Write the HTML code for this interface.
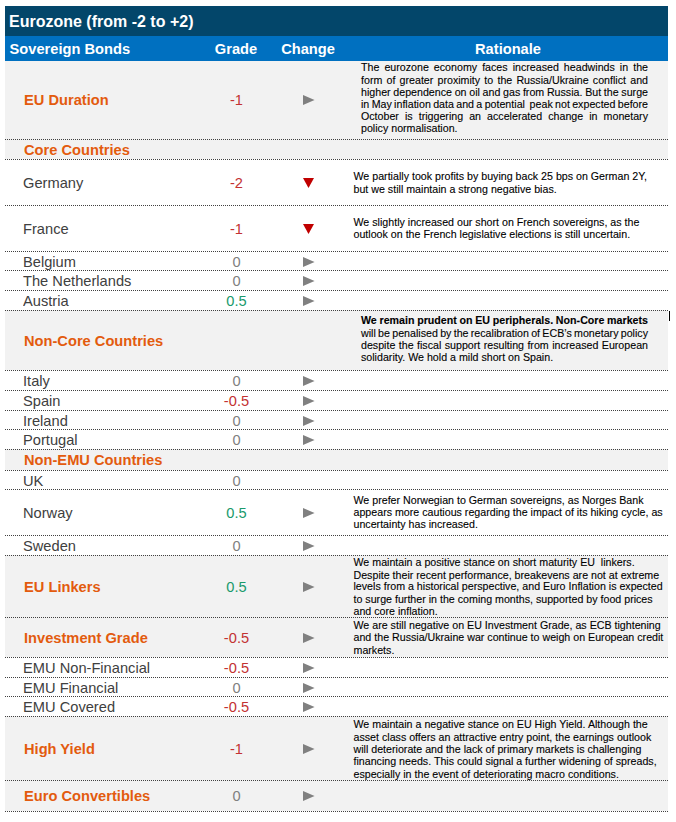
<!DOCTYPE html>
<html><head><meta charset="utf-8"><style>
html,body{margin:0;padding:0;background:#fff;}
body{width:676px;height:822px;position:relative;overflow:hidden;font-family:"Liberation Sans",sans-serif;}
.a{position:absolute;}
.t{position:absolute;white-space:pre;line-height:20px;font-size:14.667px;transform:scaleY(1.05);transform-origin:0 15px;}
.s{position:absolute;white-space:pre;line-height:12px;font-size:10.667px;color:#000;-webkit-text-stroke:0.1px #000;}
.j{text-align:justify;text-align-last:justify;}
.dl{position:absolute;left:5px;width:663px;height:1px;background:repeating-linear-gradient(to right,#404040 0 1px,transparent 1px 2px);}
.b{font-weight:bold;}
</style></head><body>

<div class="a" style="left:5px;top:6px;width:663px;height:30px;background:#03466A"></div>
<div class="a" style="left:5px;top:36px;width:663px;height:25px;background:#0070C0"></div>
<div class="a" style="left:5px;top:61px;width:663px;height:78px;background:#F2F2F2"></div>
<div class="a" style="left:5px;top:139px;width:663px;height:20px;background:#F2F2F2"></div>
<div class="a" style="left:5px;top:310px;width:663px;height:60px;background:#F2F2F2"></div>
<div class="a" style="left:5px;top:449px;width:663px;height:21px;background:#F2F2F2"></div>
<div class="a" style="left:5px;top:555px;width:663px;height:62px;background:#F2F2F2"></div>
<div class="a" style="left:5px;top:617px;width:663px;height:40px;background:#F2F2F2"></div>
<div class="a" style="left:5px;top:716px;width:663px;height:64px;background:#F2F2F2"></div>
<div class="a" style="left:5px;top:780px;width:663px;height:31px;background:#F2F2F2"></div>
<div class="dl" style="top:139px"></div>
<div class="dl" style="top:159px"></div>
<div class="dl" style="top:205px"></div>
<div class="dl" style="top:251px"></div>
<div class="dl" style="top:270px"></div>
<div class="dl" style="top:290px"></div>
<div class="dl" style="top:310px"></div>
<div class="dl" style="top:370px"></div>
<div class="dl" style="top:390px"></div>
<div class="dl" style="top:410px"></div>
<div class="dl" style="top:429px"></div>
<div class="dl" style="top:449px"></div>
<div class="dl" style="top:470px"></div>
<div class="dl" style="top:489px"></div>
<div class="dl" style="top:535px"></div>
<div class="dl" style="top:555px"></div>
<div class="dl" style="top:617px"></div>
<div class="dl" style="top:657px"></div>
<div class="dl" style="top:677px"></div>
<div class="dl" style="top:696px"></div>
<div class="dl" style="top:716px"></div>
<div class="dl" style="top:780px"></div>
<div class="dl" style="top:811px"></div>
<div class="t b" style="left:9px;top:12px;font-size:16px;color:#fff">Eurozone (from -2 to +2)</div>
<div class="t b" style="left:9.5px;top:39px;color:#fff">Sovereign Bonds</div>
<div class="t b" style="left:186px;top:39px;width:100px;text-align:center;color:#fff">Grade</div>
<div class="t b" style="left:258px;top:39px;width:100px;text-align:center;color:#fff">Change</div>
<div class="t b" style="left:408px;top:39px;width:200px;text-align:center;color:#fff">Rationale</div>
<div class="t b" style="left:24px;top:90px;color:#E35B0E">EU Duration</div>
<div class="t" style="left:186.5px;top:90px;width:100px;text-align:center;color:#C33232">-1</div>
<svg class="a" style="left:300px;top:91px" width="20" height="16"><polygon points="3,4 14.6,9.1 3,14" fill="#808080"/></svg>
<div class="t b" style="left:24px;top:140px;color:#E35B0E">Core Countries</div>
<div class="t" style="left:23px;top:173px;color:#404040">Germany</div>
<div class="t" style="left:186.5px;top:173px;width:100px;text-align:center;color:#C33232">-2</div>
<svg class="a" style="left:300px;top:174px" width="20" height="16"><polygon points="3,4 14,4 8.5,14" fill="#C00000"/></svg>
<div class="t" style="left:23px;top:219px;color:#404040">France</div>
<div class="t" style="left:186.5px;top:219px;width:100px;text-align:center;color:#C33232">-1</div>
<svg class="a" style="left:300px;top:220px" width="20" height="16"><polygon points="3,4 14,4 8.5,14" fill="#C00000"/></svg>
<div class="t" style="left:23px;top:252px;color:#404040">Belgium</div>
<div class="t" style="left:186.5px;top:252px;width:100px;text-align:center;color:#7F7F7F">0</div>
<svg class="a" style="left:300px;top:253px" width="20" height="16"><polygon points="3,4 14.6,9.1 3,14" fill="#808080"/></svg>
<div class="t" style="left:23px;top:271px;color:#404040">The Netherlands</div>
<div class="t" style="left:186.5px;top:271px;width:100px;text-align:center;color:#7F7F7F">0</div>
<svg class="a" style="left:300px;top:272px" width="20" height="16"><polygon points="3,4 14.6,9.1 3,14" fill="#808080"/></svg>
<div class="t" style="left:23px;top:291px;color:#404040">Austria</div>
<div class="t" style="left:186.5px;top:291px;width:100px;text-align:center;color:#1A9A6C">0.5</div>
<svg class="a" style="left:300px;top:292px" width="20" height="16"><polygon points="3,4 14.6,9.1 3,14" fill="#808080"/></svg>
<div class="t b" style="left:24px;top:331px;color:#E35B0E">Non-Core Countries</div>
<div class="t" style="left:23px;top:371px;color:#404040">Italy</div>
<div class="t" style="left:186.5px;top:371px;width:100px;text-align:center;color:#7F7F7F">0</div>
<svg class="a" style="left:300px;top:372px" width="20" height="16"><polygon points="3,4 14.6,9.1 3,14" fill="#808080"/></svg>
<div class="t" style="left:23px;top:391px;color:#404040">Spain</div>
<div class="t" style="left:186.5px;top:391px;width:100px;text-align:center;color:#C33232">-0.5</div>
<svg class="a" style="left:300px;top:392px" width="20" height="16"><polygon points="3,4 14.6,9.1 3,14" fill="#808080"/></svg>
<div class="t" style="left:23px;top:411px;color:#404040">Ireland</div>
<div class="t" style="left:186.5px;top:411px;width:100px;text-align:center;color:#7F7F7F">0</div>
<svg class="a" style="left:300px;top:412px" width="20" height="16"><polygon points="3,4 14.6,9.1 3,14" fill="#808080"/></svg>
<div class="t" style="left:23px;top:430px;color:#404040">Portugal</div>
<div class="t" style="left:186.5px;top:430px;width:100px;text-align:center;color:#7F7F7F">0</div>
<svg class="a" style="left:300px;top:431px" width="20" height="16"><polygon points="3,4 14.6,9.1 3,14" fill="#808080"/></svg>
<div class="t b" style="left:24px;top:450px;color:#E35B0E">Non-EMU Countries</div>
<div class="t" style="left:23px;top:471px;color:#404040">UK</div>
<div class="t" style="left:186.5px;top:471px;width:100px;text-align:center;color:#7F7F7F">0</div>
<div class="t" style="left:23px;top:503px;color:#404040">Norway</div>
<div class="t" style="left:186.5px;top:503px;width:100px;text-align:center;color:#1A9A6C">0.5</div>
<svg class="a" style="left:300px;top:504px" width="20" height="16"><polygon points="3,4 14.6,9.1 3,14" fill="#808080"/></svg>
<div class="t" style="left:23px;top:536px;color:#404040">Sweden</div>
<div class="t" style="left:186.5px;top:536px;width:100px;text-align:center;color:#7F7F7F">0</div>
<svg class="a" style="left:300px;top:537px" width="20" height="16"><polygon points="3,4 14.6,9.1 3,14" fill="#808080"/></svg>
<div class="t b" style="left:24px;top:577px;color:#E35B0E">EU Linkers</div>
<div class="t" style="left:186.5px;top:577px;width:100px;text-align:center;color:#1A9A6C">0.5</div>
<svg class="a" style="left:300px;top:578px" width="20" height="16"><polygon points="3,4 14.6,9.1 3,14" fill="#808080"/></svg>
<div class="t b" style="left:24px;top:628px;color:#E35B0E">Investment Grade</div>
<div class="t" style="left:186.5px;top:628px;width:100px;text-align:center;color:#C33232">-0.5</div>
<svg class="a" style="left:300px;top:629px" width="20" height="16"><polygon points="3,4 14.6,9.1 3,14" fill="#808080"/></svg>
<div class="t" style="left:23px;top:658px;color:#404040">EMU Non-Financial</div>
<div class="t" style="left:186.5px;top:658px;width:100px;text-align:center;color:#C33232">-0.5</div>
<svg class="a" style="left:300px;top:659px" width="20" height="16"><polygon points="3,4 14.6,9.1 3,14" fill="#808080"/></svg>
<div class="t" style="left:23px;top:678px;color:#404040">EMU Financial</div>
<div class="t" style="left:186.5px;top:678px;width:100px;text-align:center;color:#7F7F7F">0</div>
<svg class="a" style="left:300px;top:679px" width="20" height="16"><polygon points="3,4 14.6,9.1 3,14" fill="#808080"/></svg>
<div class="t" style="left:23px;top:697px;color:#404040">EMU Covered</div>
<div class="t" style="left:186.5px;top:697px;width:100px;text-align:center;color:#C33232">-0.5</div>
<svg class="a" style="left:300px;top:698px" width="20" height="16"><polygon points="3,4 14.6,9.1 3,14" fill="#808080"/></svg>
<div class="t b" style="left:24px;top:739px;color:#E35B0E">High Yield</div>
<div class="t" style="left:186.5px;top:739px;width:100px;text-align:center;color:#C33232">-1</div>
<svg class="a" style="left:300px;top:740px" width="20" height="16"><polygon points="3,4 14.6,9.1 3,14" fill="#808080"/></svg>
<div class="t b" style="left:24px;top:786px;color:#E35B0E">Euro Convertibles</div>
<div class="t" style="left:186.5px;top:786px;width:100px;text-align:center;color:#7F7F7F">0</div>
<svg class="a" style="left:300px;top:787px" width="20" height="16"><polygon points="3,4 14.6,9.1 3,14" fill="#808080"/></svg>
<div class="s" style="left:361px;top:61px;word-spacing:2.071px;">The eurozone economy faces increased headwinds in the</div>
<div class="s" style="left:361px;top:74px;word-spacing:1.227px;">form of greater proximity to the Russia/Ukraine conflict and</div>
<div class="s" style="left:361px;top:86px;word-spacing:-0.269px;">higher dependence on oil and gas from Russia. But the surge</div>
<div class="s" style="left:361px;top:98px;word-spacing:-0.622px;">in May inflation data and a potential  peak not expected before</div>
<div class="s" style="left:361px;top:110px;word-spacing:3.089px;">October is triggering an accelerated change in monetary</div>
<div class="s" style="left:361px;top:122px;">policy normalisation.</div>
<div class="s" style="left:353.5px;top:170px;">We partially took profits by buying back 25 bps on German 2Y,</div>
<div class="s" style="left:353.5px;top:183px;">but we still maintain a strong negative bias.</div>
<div class="s" style="left:353.5px;top:216px;">We slightly increased our short on French sovereigns, as the</div>
<div class="s" style="left:353.5px;top:228px;">outlook on the French legislative elections is still uncertain.</div>
<div class="s b" style="left:361px;top:314px;word-spacing:-0.254px;">We remain prudent on EU peripherals. Non-Core markets</div>
<div class="s" style="left:361px;top:327px;word-spacing:-0.667px;">will be penalised by the recalibration of ECB’s monetary policy</div>
<div class="s" style="left:361px;top:339px;word-spacing:0.467px;">despite the fiscal support resulting from increased European</div>
<div class="s" style="left:361px;top:351px;">solidarity. We hold a mild short on Spain.</div>
<div class="s" style="left:353.5px;top:494px;">We prefer Norwegian to German sovereigns, as Norges Bank</div>
<div class="s" style="left:353.5px;top:506px;">appears more cautious regarding the impact of its hiking cycle, as</div>
<div class="s" style="left:353.5px;top:518px;">uncertainty has increased.</div>
<div class="s" style="left:353.5px;top:556px;">We maintain a positive stance on short maturity EU  linkers.</div>
<div class="s" style="left:353.5px;top:569px;">Despite their recent performance, breakevens are not at extreme</div>
<div class="s" style="left:353.5px;top:580px;">levels from a historical perspective, and Euro Inflation is expected</div>
<div class="s" style="left:353.5px;top:593px;">to surge further in the coming months, supported by food prices</div>
<div class="s" style="left:353.5px;top:605px;">and core inflation.</div>
<div class="s" style="left:353.5px;top:619px;">We are still negative on EU Investment Grade, as ECB tightening</div>
<div class="s" style="left:353.5px;top:631px;">and the Russia/Ukraine war continue to weigh on European credit</div>
<div class="s" style="left:353.5px;top:644px;">markets.</div>
<div class="s" style="left:353.5px;top:718px;">We maintain a negative stance on EU High Yield. Although the</div>
<div class="s" style="left:353.5px;top:731px;">asset class offers an attractive entry point, the earnings outlook</div>
<div class="s" style="left:353.5px;top:743px;">will deteriorate and the lack of primary markets is challenging</div>
<div class="s" style="left:353.5px;top:755px;">financing needs. This could signal a further widening of spreads,</div>
<div class="s" style="left:353.5px;top:768px;">especially in the event of deteriorating macro conditions.</div>
<div class="a" style="left:669px;top:311px;width:1px;height:10px;background:#000"></div>
</body></html>
